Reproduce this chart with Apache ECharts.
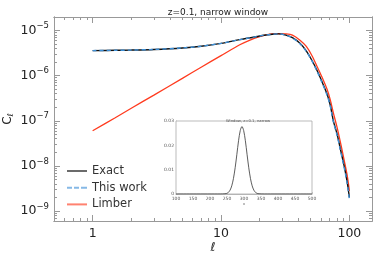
<!DOCTYPE html>
<html><head><meta charset="utf-8">
<script src="https://cdn.jsdelivr.net/npm/echarts@6/dist/echarts.min.js"></script>
<style>html,body{margin:0;padding:0;background:#fff}#c{width:390px;height:260px}</style>
</head><body><div id="c"></div>
<script>
// ---- data ----
const ell      = [1, 1.5, 2, 3, 5, 7, 10, 14, 17, 20, 23, 25, 28, 32, 36, 41, 46, 51, 56, 61, 67, 71, 75, 80, 85, 91, 96, 100];
const exact    = [3.6e-6, 3.65e-6, 3.7e-6, 3.82e-6, 4.12e-6, 4.5e-6, 5.2e-6, 6.3e-6, 6.95e-6, 7.6e-6, 8.05e-6, 8.3e-6, 8.45e-6, 7.95e-6, 7.0e-6, 5.3e-6, 3.6e-6, 2.2e-6, 1.3e-6, 7.5e-7, 3.9e-7, 2.2e-7, 1.0e-7, 5.2e-8, 2.4e-8, 1.0e-8, 4.5e-9, 2.0e-9];
const thisWork = [3.6e-6, 3.65e-6, 3.7e-6, 3.82e-6, 4.12e-6, 4.5e-6, 5.2e-6, 6.3e-6, 6.95e-6, 7.6e-6, 8.05e-6, 8.3e-6, 8.45e-6, 7.9e-6, 6.9e-6, 5.2e-6, 3.5e-6, 2.15e-6, 1.25e-6, 7.2e-7, 3.7e-7, 2.1e-7, 9.5e-8, 4.9e-8, 2.25e-8, 9.3e-9, 4.2e-9, 1.85e-9];
const limber   = [6.0e-8, 1.17e-7, 1.9e-7, 3.7e-7, 8.7e-7, 1.54e-6, 2.78e-6, 4.85e-6, 6.25e-6, 7.36e-6, 8.15e-6, 8.45e-6, 8.6e-6, 8.45e-6, 7.9e-6, 6.2e-6, 4.5e-6, 2.8e-6, 1.6e-6, 9.5e-7, 5.0e-7, 2.9e-7, 1.5e-7, 7.3e-8, 3.4e-8, 1.35e-8, 6.3e-9, 2.8e-9];

const winX = [100, 230, 244, 249, 254, 259, 264, 269, 274, 279, 284, 289, 294, 299, 304, 309, 314, 319, 324, 329, 334, 339, 344, 360, 500];
const winY = [0, 0, 0.00008, 0.00024, 0.00065, 0.00157, 0.00336, 0.0064, 0.0108, 0.0163, 0.0219, 0.0261, 0.0277, 0.0261, 0.0219, 0.0163, 0.0108, 0.0064, 0.00336, 0.00157, 0.00065, 0.00024, 0.00008, 0, 0];

const xMajor = [1, 10, 100];
const xMinor = [0.6, 0.7, 0.8, 0.9, 2, 3, 4, 5, 6, 7, 8, 9, 20, 30, 40, 50, 60, 70, 80, 90];
const yMajor = [1e-9, 1e-8, 1e-7, 1e-6, 1e-5];
const yMinor = [7e-10, 8e-10, 9e-10,
  2e-9, 3e-9, 4e-9, 5e-9, 6e-9, 7e-9, 8e-9, 9e-9,
  2e-8, 3e-8, 4e-8, 5e-8, 6e-8, 7e-8, 8e-8, 9e-8,
  2e-7, 3e-7, 4e-7, 5e-7, 6e-7, 7e-7, 8e-7, 9e-7,
  2e-6, 3e-6, 4e-6, 5e-6, 6e-6, 7e-6, 8e-6, 9e-6];

const FONT = 'DejaVu Sans';
const AX = '#999';
const supMap = {'-':'\u2212','0':'0','1':'1','2':'2','3':'3','4':'4','5':'5','6':'6','7':'7','8':'8','9':'9'};

function xAx(pos, ticks, len, labels) {
  return {
    type: 'log', gridIndex: 0, min: 0.5, max: 150, position: pos,
    axisLine: {show: true, onZero: false, lineStyle: {color: AX, width: 1}},
    axisTick: {show: true, inside: true, length: len, customValues: ticks, lineStyle: {color: AX, width: 1}},
    axisLabel: labels ? {customValues: xMajor, fontSize: 12.5, color: '#222', fontFamily: FONT, margin: 6,
      formatter: v => String(Math.round(v))} : {show: false},
    minorTick: {show: false}, splitLine: {show: false}
  };
}
function yAx(pos, ticks, len, labels) {
  return {
    type: 'log', gridIndex: 0, min: 6e-10, max: 2e-5, position: pos,
    axisLine: {show: true, onZero: false, lineStyle: {color: AX, width: 1}},
    axisTick: {show: true, inside: true, length: len, customValues: ticks, lineStyle: {color: AX, width: 1}},
    axisLabel: labels ? {customValues: yMajor, color: '#222', fontFamily: FONT, margin: 5,
      formatter: v => {
        const e = String(Math.round(Math.log10(v))).split('').map(c => supMap[c]).join('');
        return '{b|10}{s|' + e + '}';
      },
      rich: {b: {fontSize: 12.5, fontFamily: FONT, color: '#222'},
             s: {fontSize: 8.5, fontFamily: FONT, color: '#222', padding: [0, 0, 9, 0]}}} : {show: false},
    minorTick: {show: false}, splitLine: {show: false}
  };
}

const xMain = xAx('bottom', xMajor, 6, true);
xMain.name = 'ℓ'; xMain.nameLocation = 'middle'; xMain.nameGap = 21; xMain.nameMoveOverlap = false;
xMain.nameTextStyle = {fontSize: 12, color: '#222', fontFamily: 'DejaVu Sans'};
const yMain = yAx('left', yMajor, 6, true);
yMain.name = '{c|C}{l|ℓ}'; yMain.nameLocation = 'middle'; yMain.nameGap = 39; yMain.nameRotate = 90;
yMain.nameMoveOverlap = false;
yMain.nameTextStyle = {rich: {c: {fontSize: 12, color: '#222', fontFamily: FONT},
                              l: {fontSize: 8, color: '#222', fontFamily: 'DejaVu Sans', padding: [6, 0, 0, 0]}}};

const insetAxisStyle = {
  axisLine: {show: true, onZero: false, lineStyle: {color: '#aaa', width: 0.8}},
  axisTick: {show: true, inside: true, length: 2, lineStyle: {color: '#aaa', width: 0.6}},
  minorTick: {show: true, splitNumber: 5, length: 1, lineStyle: {color: '#bbb', width: 0.5}},
  splitLine: {show: false}
};

const solidIcon = 'path://M0,0h20v2h-20z';
const dashIcon = 'path://M0,0h5v2h-5zM7,0h5v2h-5zM14,0h6v2h-6z';

const option = {
  animation: false,
  backgroundColor: '#fff',
  title: [
    {text: 'z=0.1, narrow window', left: 213, top: 3, textAlign: 'center',
     textStyle: {fontSize: 9, fontWeight: 'normal', color: '#222', fontFamily: FONT}},
    {text: 'Window, z=0.1, narrow', left: 243, top: 114.5, textAlign: 'center',
     textStyle: {fontSize: 3.8, fontWeight: 'normal', color: '#555', fontFamily: FONT}}
  ],
  grid: [
    {left: 54, right: 18, top: 17, bottom: 39, show: false, containLabel: false, outerBoundsMode: 'none'},
    {left: 176, right: 78, top: 121, bottom: 66, show: true, borderColor: '#aaa', borderWidth: 0.8,
     backgroundColor: '#fff', z: 5, containLabel: false, outerBoundsMode: 'none'}
  ],
  legend: {
    left: 62, top: 160, orient: 'vertical', itemWidth: 20, itemHeight: 14, itemGap: 4.7,
    symbolKeepAspect: true,
    textStyle: {fontSize: 11.5, color: '#333', fontFamily: FONT},
    data: [
      {name: 'Exact', icon: solidIcon, itemStyle: {color: '#6b6b6b'}},
      {name: 'This work', icon: dashIcon, itemStyle: {color: '#86b9e6'}},
      {name: 'Limber', icon: solidIcon, itemStyle: {color: '#ff8270'}}
    ]
  },
  xAxis: [
    xMain,
    xAx('bottom', xMinor, 3, false),
    xAx('top', xMajor, 6, false),
    xAx('top', xMinor, 3, false),
    Object.assign({type: 'value', gridIndex: 1, min: 100, max: 500, interval: 50, position: 'bottom',
      axisLabel: {fontSize: 4.5, color: '#555', fontFamily: FONT, margin: 2},
      name: 'x', nameLocation: 'middle', nameGap: 8, nameMoveOverlap: false,
      nameTextStyle: {fontSize: 4, color: '#555'}}, insetAxisStyle)
  ],
  yAxis: [
    yMain,
    yAx('left', yMinor, 3, false),
    yAx('right', yMajor, 6, false),
    yAx('right', yMinor, 3, false),
    Object.assign({type: 'value', gridIndex: 1, min: 0, max: 0.03, interval: 0.01, position: 'left',
      axisLabel: {fontSize: 4.5, color: '#555', fontFamily: FONT, margin: 2,
        formatter: v => v === 0 ? '0' : v.toFixed(2)}}, insetAxisStyle)
  ],
  series: [
    {name: 'Limber', type: 'line', xAxisIndex: 0, yAxisIndex: 0, symbol: 'none', smooth: 0.3, z: 2,
     data: ell.map((l, i) => [l, limber[i]]),
     lineStyle: {color: '#ff3b1f', width: 1.3}, itemStyle: {color: '#ff3b1f'}},
    {name: 'Exact', type: 'line', xAxisIndex: 0, yAxisIndex: 0, symbol: 'none', smooth: 0.3, z: 3,
     data: ell.map((l, i) => [l, exact[i]]),
     lineStyle: {color: '#111', width: 1.4}, itemStyle: {color: '#111'}},
    {name: 'This work', type: 'line', xAxisIndex: 0, yAxisIndex: 0, symbol: 'none', smooth: 0.3, z: 4,
     data: ell.map((l, i) => [l, thisWork[i]]),
     lineStyle: {color: '#3d8fd6', width: 1.4, type: [4, 3]}, itemStyle: {color: '#3d8fd6'}},
    {name: 'window', type: 'line', xAxisIndex: 4, yAxisIndex: 4, symbol: 'none', smooth: 0.3, z: 6,
     data: winX.map((x, i) => [x, winY[i]]),
     lineStyle: {color: '#333', width: 0.8}}
  ]
};
const chart = echarts.init(document.getElementById('c'), null, {renderer: 'canvas'});
chart.setOption(option);
</script>
</body></html>
